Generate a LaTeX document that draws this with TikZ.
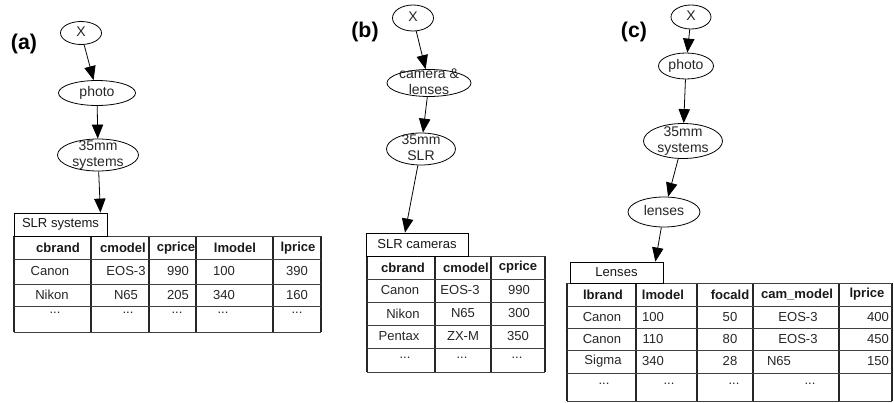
\documentclass[tikz,border=0pt]{standalone}
\usepackage{fontspec}
\setmainfont{Liberation Sans}
\usetikzlibrary{shapes.geometric, arrows.meta, calc}

\newcommand{\elabel}[1]{\smash{\raisebox{-0.25em}{\makebox[0pt]{\begin{tabular}{@{}c@{}}#1\end{tabular}}}}}

\tikzset{
  concept/.style={ellipse, draw, line width=0.6pt, inner sep=0pt, font=\fontsize{10.5}{12}\selectfont, text=black!85},
  relbox/.style={rectangle, draw, line width=0.6pt, inner sep=0pt, fill=white, font=\fontsize{9.8}{11}\selectfont, text=black!90},
  headcell/.style={inner sep=0pt, font=\bfseries\fontsize{9.8}{11}\selectfont, text=black!90},
  cell/.style={inner sep=0pt, font=\fontsize{9.8}{11}\selectfont, text=black!85},
  hrule/.style={line width=0.5pt, black!75},
  vrule/.style={line width=0.9pt, black!85},
  isa/.style={-{Triangle[length=10.5pt,width=8.5pt]}, line width=0.6pt},
  panel/.style={inner sep=0pt, font=\bfseries\fontsize{16}{18}\selectfont}
}

\begin{document}
\begin{tikzpicture}[x=0.75pt, y=-0.75pt]
        \useasboundingbox (0,0) rectangle (894,403);

        % Panel labels
        \node[panel] (pa) at (24,44) {(a)};
        \node[panel] (pb) at (365,32) {(b)};
        \node[panel] (pc) at (634,32) {(c)};

        % Concepts (a)
        \node[concept, minimum width=30.75pt, minimum height=17.25pt] (xa) at (81,33) {\elabel{X}};
        \node[concept, minimum width=57.75pt, minimum height=18.75pt] (photoa) at (97,93) {\elabel{photo}};
        \node[concept, minimum width=60.75pt, minimum height=24pt] (sysa) at (98,155) {\elabel{35mm\\systems}};

        % Concepts (b)
        \node[concept, minimum width=30.75pt, minimum height=19.5pt] (xb) at (413,18) {\elabel{X}};
        \node[concept, minimum width=63pt, minimum height=20.25pt] (camb) at (429,83) {\elabel{camera \&\\lenses}};
        \node[concept, minimum width=51.75pt, minimum height=24pt] (slrb) at (421,149) {\elabel{35mm\\SLR}};

        % Concepts (c)
        \node[concept, minimum width=30pt, minimum height=18pt] (xc) at (691,17) {\elabel{X}};
        \node[concept, minimum width=41.25pt, minimum height=19.5pt] (photoc) at (686,66) {\elabel{photo}};
        \node[concept, minimum width=59.25pt, minimum height=26.25pt] (sysc) at (683,141) {\elabel{35mm\\systems}};
        \node[concept, minimum width=54pt, minimum height=22.5pt] (lensc) at (664,212) {\elabel{lenses}};

        % Table (a)
        \foreach \x in {14,91,149,196,273,321} \draw[vrule] (\x,236) -- (\x,332);
        \foreach \y in {236,259,284,306,332} \draw[hrule] (14,\y) -- (321,\y);
        \node[relbox, minimum width=69.75pt, minimum height=17.25pt] (slrsys) at (60.5,224.5) {SLR systems};
        \foreach \x/\t [count=\i] in {58/cbrand,123/cmodel,176/cprice,235/lmodel,298/lprice}
          \node[headcell] (a-h\i) at (\x,248) {\t};
        \foreach \x/\t [count=\i] in {50/Canon,126/EOS-3,178/990,224/100,297/390}
          \node[cell] (a-r1c\i) at (\x,271) {\t};
        \foreach \x/\t [count=\i] in {52/Nikon,126/N65,178/205,224/340,297/160}
          \node[cell] (a-r2c\i) at (\x,295) {\t};
        \foreach \x [count=\i] in {55,128,177,223,297}
          \node[cell] (a-r3c\i) at (\x,313) {...};

        % Table (b)
        \foreach \x in {367,435,491,545} \draw[vrule] (\x,256) -- (\x,372);
        \foreach \y in {256,279,302,325,348,372} \draw[hrule] (367,\y) -- (545,\y);
        \node[relbox, minimum width=76.5pt, minimum height=17.25pt] (slrcam) at (417,244.5) {SLR cameras};
        \foreach \x/\t [count=\i] in {403/cbrand,466/cmodel,518/cprice}
          \node[headcell] (b-h\i) at (\x,267.5) {\t};
        \foreach \x/\t [count=\i] in {400/Canon,460/EOS-3,519/990}
          \node[cell] (b-r1c\i) at (\x,290.5) {\t};
        \foreach \x/\t [count=\i] in {403/Nikon,463/N65,519/300}
          \node[cell] (b-r2c\i) at (\x,313.5) {\t};
        \foreach \x/\t [count=\i] in {399/Pentax,463/ZX-M,518/350}
          \node[cell] (b-r3c\i) at (\x,336.5) {\t};
        \foreach \x [count=\i] in {405,462,517}
          \node[cell] (b-r4c\i) at (\x,358) {...};

        % Table (c)
        \foreach \x in {567,636,697,753,839,892} \draw[vrule] (\x,283) -- (\x,401);
        \foreach \y in {283,306,328,350,373,401} \draw[hrule] (567,\y) -- (892,\y);
        \node[relbox, minimum width=69.75pt, minimum height=15.75pt] (lens) at (616.5,272.5) {Lenses};
        \foreach \x/\t [count=\i] in {603/lbrand,663/lmodel,730/focald,797/cam\_model,867/lprice}
          \node[headcell] (c-h\i) at (\x,294.5) {\t};
        \foreach \x/\t [count=\i] in {602/Canon,653/100,730/50,798/EOS-3,878/400}
          \node[cell] (c-r1c\i) at (\x,317) {\t};
        \foreach \x/\t [count=\i] in {602/Canon,653/110,730/80,798/EOS-3,878/450}
          \node[cell] (c-r2c\i) at (\x,339) {\t};
        \foreach \x/\t [count=\i] in {603/Sigma,653/340,730/28,779/N65,878/150}
          \node[cell] (c-r3c\i) at (\x,361.5) {\t};
        \foreach \x [count=\i] in {604,669,734,810}
          \node[cell] (c-r4c\i) at (\x,384) {...};

        % Edges
        \draw[isa] (xa) -- (photoa);
        \draw[isa] (photoa) -- (sysa);
        \draw[isa] (sysa) -- ($(slrsys.north east)+(-7,0)$);
        \draw[isa] (xb) -- (camb);
        \draw[isa] (camb) -- (slrb);
        \draw[isa] (slrb) -- ($(slrcam.north)+(-12,0)$);
        \draw[isa] (xc) -- (photoc);
        \draw[isa] (photoc) -- (sysc);
        \draw[isa] (sysc) -- (lensc);
        \draw[isa] (lensc) -- ($(lens.north east)+(-8,0)$);

    \end{tikzpicture}
\end{document}
